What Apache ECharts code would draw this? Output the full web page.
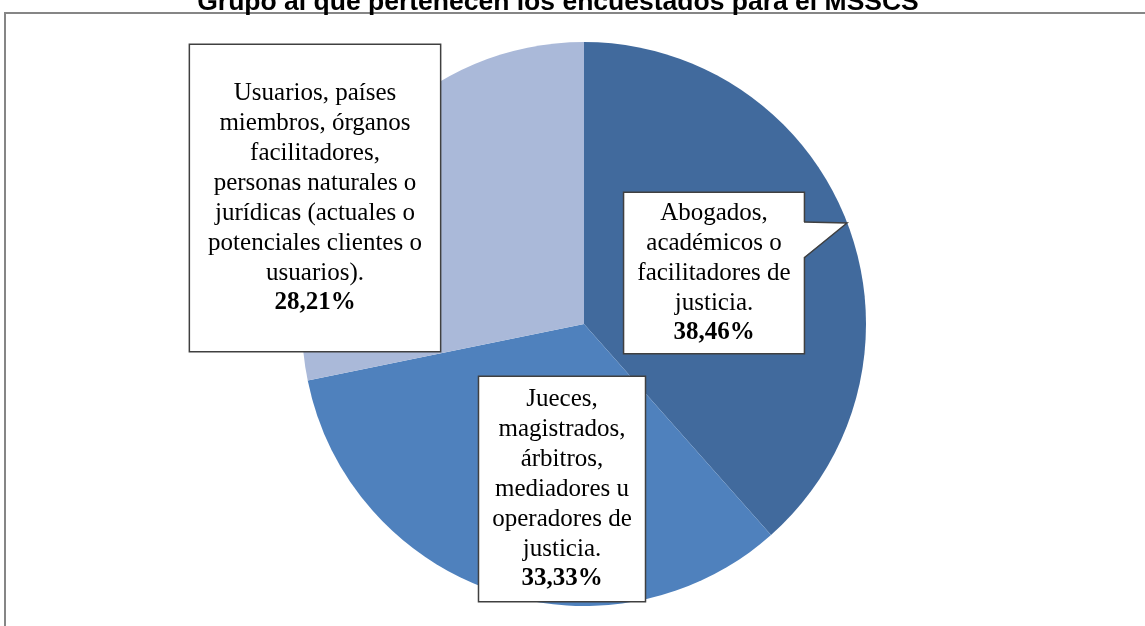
<!DOCTYPE html>
<html>
<head>
<meta charset="utf-8">
<script src="https://cdn.jsdelivr.net/npm/echarts@6/dist/echarts.min.js"></script>
<style>
  html, body { margin: 0; padding: 0; background: #fff; }
  #main { width: 1145px; height: 626px; }
</style>
</head>
<body>
<div id="main"></div>
<script>
// datos del gráfico
var grupos = [
  'Abogados,\nacadémicos o\nfacilitadores de\njusticia.',
  'Jueces,\nmagistrados,\nárbitros,\nmediadores u\noperadores de\njusticia.',
  'Usuarios, países\nmiembros, órganos\nfacilitadores,\npersonas naturales o\njurídicas (actuales o\npotenciales clientes o\nusuarios).'
];
var porcentajes = [38.46, 33.33, 28.21];
var etiquetas = ['38,46%', '33,33%', '28,21%'];
var colores = ['#416a9d', '#4f81bd', '#aab9d9'];

// cajas de las etiquetas (centro y relleno)
var cajas = [
  { x: 714, y: 273, pad: [5, 13, 5, 13] },
  { x: 562, y: 489, pad: [7, 13, 7, 13] },
  { x: 315, y: 198, pad: [33, 18, 33, 18] }
];

var myChart = echarts.init(document.getElementById('main'));

var datos = [];
for (var i = 0; i < grupos.length; i++) {
  datos.push({
    name: grupos[i],
    value: porcentajes[i],
    itemStyle: { color: colores[i] },
    label: { padding: cajas[i].pad }
  });
}

var option = {
  animation: false,
  title: {
    text: 'Grupo al que pertenecen los encuestados para el MSSCS',
    left: 558,
    top: -11,
    padding: 0,
    textAlign: 'center',
    textStyle: {
      fontFamily: 'Liberation Sans',
      fontWeight: 'bold',
      fontSize: 26.5,
      color: '#000'
    }
  },
  graphic: [
    {
      type: 'rect',
      z: -1,
      shape: { x: 5, y: 13, width: 1150, height: 700 },
      style: { fill: 'none', stroke: '#868686', lineWidth: 2 }
    },
    {
      type: 'polygon',
      z: 100,
      shape: { points: [[803, 222], [847, 223], [803, 258]] },
      style: { fill: '#fff' }
    },
    {
      type: 'polyline',
      z: 101,
      shape: { points: [[804, 222], [847, 223], [804, 258]] },
      style: { stroke: '#404040', lineWidth: 1.5, fill: 'none' }
    }
  ],
  series: [{
    type: 'pie',
    center: [584, 324],
    radius: 282,
    startAngle: 90,
    clockwise: true,
    data: datos,
    itemStyle: { borderWidth: 0 },
    label: {
      show: true,
      formatter: function (p) {
        return '{t|' + p.name + '}\n{b|' + etiquetas[p.dataIndex] + '}';
      },
      backgroundColor: '#fff',
      borderColor: '#404040',
      borderWidth: 1.5,
      align: 'center',
      rich: {
        t: {
          fontFamily: 'Liberation Serif',
          fontSize: 25,
          lineHeight: 30,
          color: '#000',
          align: 'center'
        },
        b: {
          fontFamily: 'Liberation Serif',
          fontSize: 25,
          fontWeight: 'bold',
          lineHeight: 30,
          color: '#000',
          align: 'center'
        }
      }
    },
    labelLine: { show: false },
    labelLayout: function (p) {
      var c = cajas[p.dataIndex];
      return { x: c.x, y: c.y, align: 'center', verticalAlign: 'middle' };
    },
    emphasis: { disabled: true }
  }]
};

myChart.setOption(option);
</script>
</body>
</html>
